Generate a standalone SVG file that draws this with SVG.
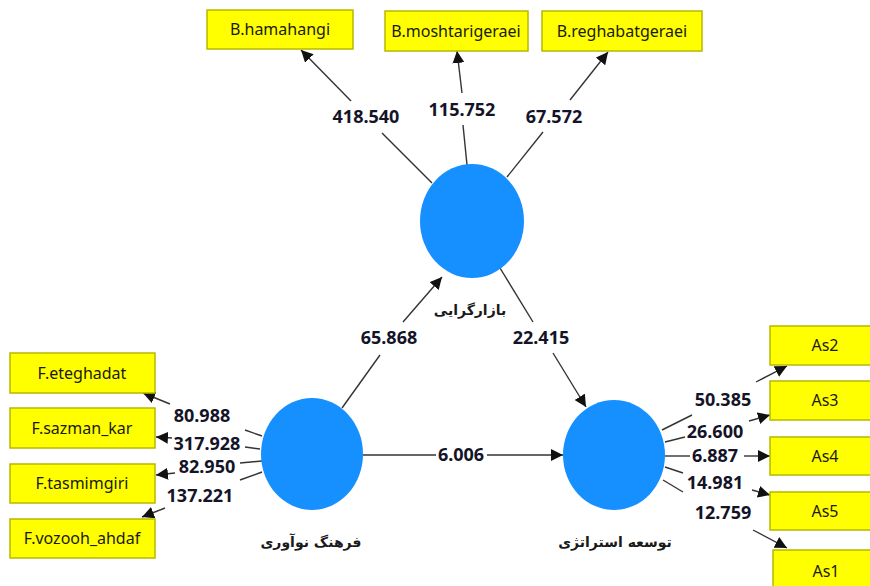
<svg xmlns="http://www.w3.org/2000/svg" width="870" height="586" viewBox="0 0 870 586">
<style>
.box{fill:#ffff00;stroke:#b8b800;stroke-width:1.5}
.bt{font-family:"Noto Sans","Liberation Sans",sans-serif;font-size:16px;fill:#1a1a10;text-anchor:middle}
.lv{fill:#168fff}
.lt{font-family:"DejaVu Sans",sans-serif;font-weight:bold;font-size:14px;fill:#1a1a1a;text-anchor:middle}
.num{font-family:"Noto Sans","Liberation Sans",sans-serif;font-weight:bold;font-size:18px;fill:#141428;text-anchor:middle}
.c{stroke:#333;stroke-width:1.4;fill:none}
.a{marker-end:url(#ah)}
</style>
<defs>
<marker id="ah" markerUnits="userSpaceOnUse" markerWidth="14" markerHeight="14" refX="12" refY="6" orient="auto">
<path d="M0,0 L12,6 L0,12 z" fill="#111"/>
</marker>
</defs>
<rect width="870" height="586" fill="#fff"/>
<g id="connectors">
<line class="c" x1="432" y1="183" x2="382" y2="133"/><line class="c a" x1="351" y1="101" x2="301" y2="50"/>
<line class="c" x1="467" y1="165" x2="463" y2="125"/><line class="c a" x1="462" y1="93" x2="457" y2="51"/>
<line class="c" x1="507" y1="177" x2="543" y2="132"/><line class="c a" x1="570" y1="100" x2="608" y2="52"/>
<line class="c" x1="342" y1="408" x2="380" y2="355"/><line class="c a" x1="403" y1="322" x2="442" y2="277"/>
<line class="c" x1="500" y1="268" x2="533" y2="322"/><line class="c a" x1="553" y1="353" x2="586" y2="407"/>
<line class="c" x1="363" y1="455" x2="436" y2="455"/><line class="c a" x1="487" y1="455" x2="563" y2="455"/>
<line class="c" x1="262" y1="436" x2="245" y2="430"/><line class="c a" x1="170" y1="404" x2="143" y2="393"/>
<line class="c" x1="260" y1="449" x2="245" y2="447"/><line class="c a" x1="172" y1="438" x2="156" y2="437"/>
<line class="c" x1="262" y1="461" x2="240" y2="463"/><line class="c a" x1="175" y1="473" x2="156" y2="475"/>
<line class="c" x1="262" y1="472" x2="240" y2="480"/><line class="c a" x1="165" y1="508" x2="142" y2="517"/>
<line class="c" x1="662" y1="430" x2="692" y2="415"/><line class="c a" x1="756" y1="382" x2="787" y2="366"/>
<line class="c" x1="665" y1="442" x2="685" y2="437"/><line class="c a" x1="749" y1="421" x2="770" y2="415"/>
<line class="c" x1="665" y1="456" x2="690" y2="456"/><line class="c a" x1="744" y1="456" x2="770" y2="456"/>
<line class="c" x1="665" y1="467" x2="683" y2="473"/><line class="c a" x1="752" y1="490" x2="770" y2="495"/>
<line class="c" x1="663" y1="480" x2="683" y2="492"/><line class="c a" x1="753" y1="530" x2="787" y2="548"/>
<g id="labels">
<text class="num" x="366" y="123">418.540</text>
<text class="num" x="462" y="116">115.752</text>
<text class="num" x="554" y="123">67.572</text>
<text class="num" x="389" y="344">65.868</text>
<text class="num" x="541" y="344">22.415</text>
<text class="num" x="461" y="461">6.006</text>
<text class="num" x="202" y="422">80.988</text>
<text class="num" x="207" y="450">317.928</text>
<text class="num" x="207" y="473">82.950</text>
<text class="num" x="200" y="502">137.221</text>
<text class="num" x="723" y="406">50.385</text>
<text class="num" x="715" y="438">26.600</text>
<text class="num" x="715" y="462">6.887</text>
<text class="num" x="715" y="489">14.981</text>
<text class="num" x="723" y="519">12.759</text>
</g>
</g>
<g id="n-bazargarayi"><ellipse class="lv" cx="472" cy="221" rx="52" ry="57"/><text class="lt" x="470" y="315">بازارگرایی</text></g>
<g id="n-farhang"><ellipse class="lv" cx="312" cy="454" rx="51" ry="56"/><text class="lt" x="311" y="547">فرهنگ نوآوری</text></g>
<g id="n-tosee"><ellipse class="lv" cx="614" cy="455" rx="51" ry="55"/><text class="lt" x="615" y="547">توسعه استراتژی</text></g>
<g id="n-b-hamahangi"><rect class="box" x="207" y="10" width="146" height="39"/><text class="bt" x="280" y="35">B.hamahangi</text></g>
<g id="n-b-moshtarigeraei"><rect class="box" x="385" y="11" width="143" height="40"/><text class="bt" x="456" y="37">B.moshtarigeraei</text></g>
<g id="n-b-reghabatgeraei"><rect class="box" x="542" y="11" width="160" height="40"/><text class="bt" x="622" y="37">B.reghabatgeraei</text></g>
<g id="n-f-eteghadat"><rect class="box" x="10" y="353" width="145" height="40"/><text class="bt" x="82" y="379">F.eteghadat</text></g>
<g id="n-f-sazman"><rect class="box" x="10" y="408" width="145" height="40"/><text class="bt" x="82" y="434">F.sazman_kar</text></g>
<g id="n-f-tasmimgiri"><rect class="box" x="10" y="464" width="145" height="39"/><text class="bt" x="82" y="489">F.tasmimgiri</text></g>
<g id="n-f-vozooh"><rect class="box" x="10" y="519" width="145" height="39"/><text class="bt" x="82" y="544">F.vozooh_ahdaf</text></g>
<g id="n-as2"><rect class="box" x="770" y="326" width="110" height="39"/><text class="bt" x="825" y="351">As2</text></g>
<g id="n-as3"><rect class="box" x="770" y="381" width="110" height="39"/><text class="bt" x="825" y="406">As3</text></g>
<g id="n-as4"><rect class="box" x="770" y="437" width="110" height="38"/><text class="bt" x="825" y="462">As4</text></g>
<g id="n-as5"><rect class="box" x="770" y="492" width="110" height="38"/><text class="bt" x="825" y="517">As5</text></g>
<g id="n-as1"><rect class="box" x="773" y="550" width="110" height="42"/><text class="bt" x="826" y="577">As1</text></g>
</svg>
